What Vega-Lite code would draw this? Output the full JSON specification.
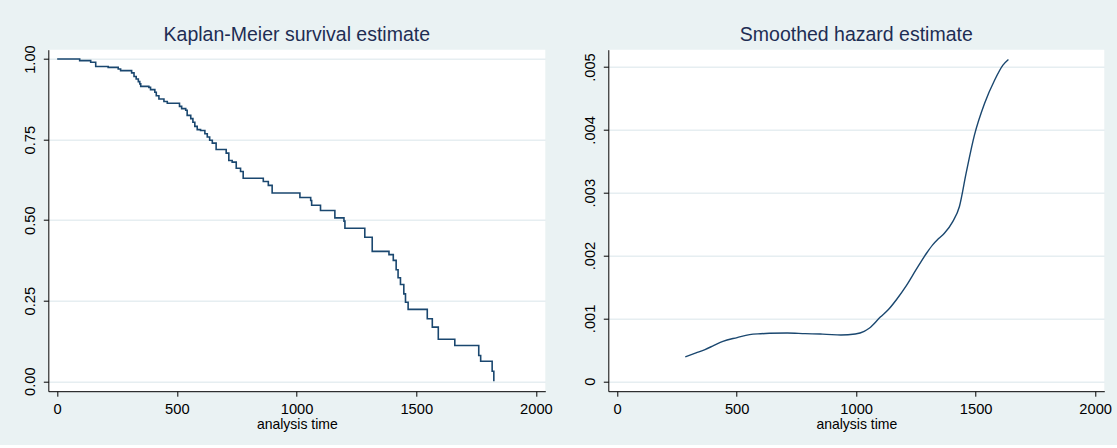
{
  "$schema": "https://vega.github.io/schema/vega-lite/v6.json",
  "background": "#EAF2F3",
  "padding": {"left": 22.3, "top": 23.7, "right": 6, "bottom": 13},
  "config": {
    "view": {"fill": "white", "stroke": null},
    "font": "Liberation Sans",
    "axis": {"domainColor": "#000000", "domainWidth": 1, "tickColor": "#000000", "tickSize": 5, "tickWidth": 1, "labelColor": "#000000", "labelFont": "Liberation Sans", "labelFontSize": 14.7, "titleFont": "Liberation Sans", "titleFontSize": 14, "titleFontWeight": "normal", "titleColor": "#000000", "gridColor": "#E6EEF1", "gridWidth": 1.5, "gridOpacity": 1},
    "axisX": {"grid": false, "labelAngle": 0, "labelPadding": 5, "titlePadding": 1.5, "labelFlush": false, "format": "d"},
    "axisY": {"grid": true, "labelAngle": 270, "labelAlign": "center", "labelBaseline": "alphabetic", "labelPadding": 8.6, "title": null, "labelFlush": false},
    "title": {"font": "Liberation Sans", "fontSize": 19.5, "fontWeight": "normal", "color": "#1E2D53", "anchor": "middle", "frame": "group", "baseline": "alphabetic", "offset": 4.6}
  },
  "bounds": "flush",
  "spacing": 63,
  "hconcat": [
    {
      "title": {"text": "Kaplan-Meier survival estimate", "offset": -0.3},
      "width": 497,
      "height": 341.5,
      "data": {"values": [
        {"t": 0, "s": 1.0}, {"t": 94, "s": 0.995}, {"t": 140, "s": 0.99}, {"t": 161, "s": 0.977}, {"t": 213, "s": 0.974}, {"t": 255, "s": 0.969}, {"t": 265, "s": 0.964}, {"t": 311, "s": 0.957}, {"t": 321, "s": 0.946}, {"t": 330, "s": 0.938}, {"t": 339, "s": 0.93}, {"t": 345, "s": 0.923}, {"t": 349, "s": 0.915}, {"t": 383, "s": 0.912}, {"t": 390, "s": 0.905}, {"t": 408, "s": 0.897}, {"t": 414, "s": 0.886}, {"t": 425, "s": 0.876}, {"t": 446, "s": 0.868}, {"t": 460, "s": 0.863}, {"t": 511, "s": 0.853}, {"t": 520, "s": 0.846}, {"t": 537, "s": 0.841}, {"t": 543, "s": 0.825}, {"t": 558, "s": 0.815}, {"t": 567, "s": 0.804}, {"t": 575, "s": 0.791}, {"t": 585, "s": 0.781}, {"t": 599, "s": 0.778}, {"t": 617, "s": 0.768}, {"t": 627, "s": 0.758}, {"t": 637, "s": 0.748}, {"t": 648, "s": 0.739}, {"t": 664, "s": 0.719}, {"t": 706, "s": 0.708}, {"t": 717, "s": 0.685}, {"t": 731, "s": 0.68}, {"t": 748, "s": 0.661}, {"t": 766, "s": 0.651}, {"t": 777, "s": 0.63}, {"t": 861, "s": 0.62}, {"t": 882, "s": 0.608}, {"t": 898, "s": 0.584}, {"t": 1014, "s": 0.57}, {"t": 1059, "s": 0.561}, {"t": 1063, "s": 0.546}, {"t": 1100, "s": 0.53}, {"t": 1160, "s": 0.507}, {"t": 1198, "s": 0.497}, {"t": 1202, "s": 0.475}, {"t": 1285, "s": 0.447}, {"t": 1316, "s": 0.403}, {"t": 1386, "s": 0.393}, {"t": 1404, "s": 0.375}, {"t": 1416, "s": 0.346}, {"t": 1424, "s": 0.321}, {"t": 1434, "s": 0.3}, {"t": 1448, "s": 0.271}, {"t": 1455, "s": 0.245}, {"t": 1466, "s": 0.223}, {"t": 1546, "s": 0.194}, {"t": 1567, "s": 0.168}, {"t": 1592, "s": 0.13}, {"t": 1661, "s": 0.111}, {"t": 1761, "s": 0.08}, {"t": 1769, "s": 0.062}, {"t": 1817, "s": 0.031}, {"t": 1824, "s": 0.0}
      ]},
      "mark": {"type": "line", "interpolate": "step-after", "color": "#1A476F", "strokeWidth": 1.6},
      "encoding": {
        "x": {"field": "t", "type": "quantitative", "scale": {"domain": [-37, 2039], "nice": false, "zero": false}, "axis": {"values": [0, 500, 1000, 1500, 2000], "title": "analysis time"}},
        "y": {"field": "s", "type": "quantitative", "scale": {"domain": [-0.031, 1.029], "nice": false, "zero": false}, "axis": {"values": [0, 0.25, 0.5, 0.75, 1], "format": ".2f"}}
      }
    },
    {
      "title": "Smoothed hazard estimate",
      "width": 496,
      "height": 341.5,
      "data": {"values": [
        {"t": 285, "h": 0.000387}, {"t": 330, "h": 0.00045}, {"t": 367.6, "h": 0.000503}, {"t": 405, "h": 0.00057}, {"t": 442.5, "h": 0.000635}, {"t": 502, "h": 0.000694}, {"t": 554, "h": 0.000741}, {"t": 600, "h": 0.000755}, {"t": 637, "h": 0.000762}, {"t": 712, "h": 0.000768}, {"t": 786.6, "h": 0.000757}, {"t": 850, "h": 0.00075}, {"t": 876, "h": 0.000746}, {"t": 936, "h": 0.000735}, {"t": 996, "h": 0.000752}, {"t": 1033.5, "h": 0.000794}, {"t": 1056, "h": 0.000847}, {"t": 1101, "h": 0.00102}, {"t": 1135, "h": 0.00114}, {"t": 1169, "h": 0.0013}, {"t": 1210, "h": 0.00152}, {"t": 1250, "h": 0.00177}, {"t": 1295, "h": 0.00204}, {"t": 1320, "h": 0.00217}, {"t": 1345, "h": 0.00227}, {"t": 1369, "h": 0.002355}, {"t": 1404, "h": 0.00254}, {"t": 1432, "h": 0.00278}, {"t": 1460, "h": 0.00331}, {"t": 1495, "h": 0.00392}, {"t": 1537, "h": 0.00442}, {"t": 1579, "h": 0.00479}, {"t": 1614, "h": 0.00503}, {"t": 1637, "h": 0.00512}
      ]},
      "mark": {"type": "line", "interpolate": "monotone", "color": "#1A476F", "strokeWidth": 1.4},
      "encoding": {
        "x": {"field": "t", "type": "quantitative", "scale": {"domain": [-37, 2038], "nice": false, "zero": false}, "axis": {"values": [0, 500, 1000, 1500, 2000], "title": "analysis time"}},
        "y": {"field": "h", "type": "quantitative", "scale": {"domain": [-0.000159, 0.005276], "nice": false, "zero": false}, "axis": {"values": [0, 0.001, 0.002, 0.003, 0.004, 0.005], "labelExpr": "datum.value == 0 ? '0' : '.00' + format(datum.value * 1000, 'd')"}}
      }
    }
  ]
}
